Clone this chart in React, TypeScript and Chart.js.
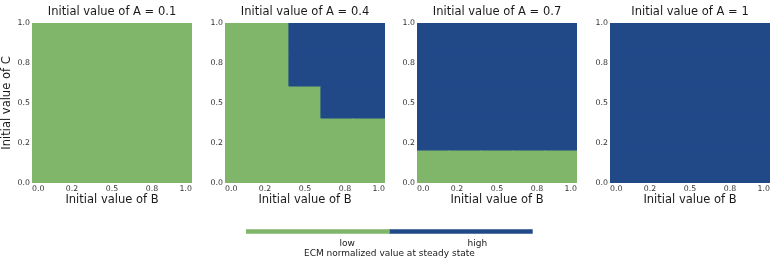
import React, { useEffect, useRef } from "react";
import { Chart, registerables } from "chart.js";

Chart.register(...registerables);

// ---- data ----
const A_VALUES = ["0.1", "0.4", "0.7", "1"];
// B columns (cell centres) and C rows (cell edges), grid 5 x 5 on [0,1]
const B_CENTERS = [0.1, 0.3, 0.5, 0.7, 0.9];
const C_EDGES = [0, 0.2, 0.4, 0.6, 0.8, 1.0];
// steady-state ECM (0 = low, 1 = high); rows from C=0 (bottom) to C=1 (top), columns B=0..1
const GRID_A01 = [
  [0, 0, 0, 0, 0],
  [0, 0, 0, 0, 0],
  [0, 0, 0, 0, 0],
  [0, 0, 0, 0, 0],
  [0, 0, 0, 0, 0],
];
const GRID_A04 = [
  [0, 0, 0, 0, 0],
  [0, 0, 0, 0, 0],
  [0, 0, 0, 1, 1],
  [0, 0, 1, 1, 1],
  [0, 0, 1, 1, 1],
];
const GRID_A07 = [
  [0, 0, 0, 0, 0],
  [1, 1, 1, 1, 1],
  [1, 1, 1, 1, 1],
  [1, 1, 1, 1, 1],
  [1, 1, 1, 1, 1],
];
const GRID_A10 = [
  [1, 1, 1, 1, 1],
  [1, 1, 1, 1, 1],
  [1, 1, 1, 1, 1],
  [1, 1, 1, 1, 1],
  [1, 1, 1, 1, 1],
];
const GRIDS = [GRID_A01, GRID_A04, GRID_A07, GRID_A10];
const AXIS_TICKS = [0, 0.25, 0.5, 0.75, 1];
const AXIS_TICK_LABELS = ["0.0", "0.2", "0.5", "0.8", "1.0"];
const LEVEL_LABELS = ["low", "high"];
const COLORBAR_TICKS = [0.353, 0.807];
const COLORBAR_EDGES = [0, 0.5, 1];

const GREEN = "rgb(127,182,106)";
const BLUE = "rgb(33,73,136)";
const LEVEL_COLORS = [GREEN, BLUE];
const TEXT = "#1a1a1a";
const TICK_TEXT = "#333333";
const FONT = "'DejaVu Sans', sans-serif";

function Panel({ index, left }: { index: number; left: number }) {
  const ref = useRef<HTMLCanvasElement>(null);
  useEffect(() => {
    const grid = GRIDS[index];
    const datasets = grid.map((row, r) => ({
      label: "C row " + r,
      data: row.map((v, c) => ({ x: B_CENTERS[c], y: [C_EDGES[r], C_EDGES[r + 1]] })),
      backgroundColor: row.map((v) => LEVEL_COLORS[v]),
      borderWidth: 0,
      barPercentage: 1,
      categoryPercentage: 1,
      grouped: false,
      inflateAmount: 0.6,
    }));
    const chart = new Chart(ref.current!, {
      type: "bar",
      data: { datasets: datasets as any },
      options: {
        animation: false,
        responsive: false,
        layout: { padding: { left: 0, right: 0, top: 0, bottom: 0 } },
        plugins: {
          legend: { display: false },
          tooltip: { enabled: false },
          title: {
            display: true,
            fullSize: false,
            text: "Initial value of A = " + A_VALUES[index],
            color: TEXT,
            font: { family: FONT, size: 11.5, weight: "normal" },
            padding: { top: 5, bottom: 4.2 },
          },
        },
        scales: {
          x: {
            type: "linear",
            min: 0,
            max: 1,
            offset: false,
            grid: { display: false, drawTicks: false },
            border: { display: false },
            afterBuildTicks: (axis: any) => {
              axis.ticks = AXIS_TICKS.map((v) => ({ value: v }));
            },
            afterFit: (axis: any) => {
              axis.height = 27;
            },
            ticks: {
              autoSkip: false,
              maxRotation: 0,
              align: "inner",
              padding: 1,
              color: TICK_TEXT,
              font: { family: FONT, size: 7.8 },
              callback: (_v: any, i: number) => AXIS_TICK_LABELS[i],
            },
            title: {
              display: true,
              text: "Initial value of B",
              color: TEXT,
              font: { family: FONT, size: 11.5 },
              padding: { top: 0, bottom: 3 },
            },
          },
          y: {
            type: "linear",
            min: 0,
            max: 1,
            grid: { display: false, drawTicks: false },
            border: { display: false },
            afterBuildTicks: (axis: any) => {
              axis.ticks = AXIS_TICKS.map((v) => ({ value: v }));
            },
            afterFit: (axis: any) => {
              axis.width = 32;
            },
            ticks: {
              autoSkip: false,
              padding: 2,
              color: TICK_TEXT,
              font: { family: FONT, size: 7.8 },
              callback: (_v: any, i: number) => AXIS_TICK_LABELS[i],
            },
            title: {
              display: index === 0,
              text: "Initial value of C",
              color: TEXT,
              font: { family: FONT, size: 11.5 },
              padding: 0,
            },
          },
        },
      } as any,
    });
    return () => chart.destroy();
  }, [index]);
  return (
    <canvas
      ref={ref}
      width={193}
      height={210}
      style={{ position: "absolute", left, top: 0, width: 193, height: 210 }}
    />
  );
}

function ColorBar() {
  const ref = useRef<HTMLCanvasElement>(null);
  useEffect(() => {
    const datasets = LEVEL_LABELS.map((lab, i) => ({
      label: lab,
      data: [[COLORBAR_EDGES[i], COLORBAR_EDGES[i + 1]]],
      backgroundColor: LEVEL_COLORS[i],
      borderWidth: 0,
      barPercentage: 1,
      categoryPercentage: 1,
      grouped: false,
      inflateAmount: 0.5,
    }));
    const chart = new Chart(ref.current!, {
      type: "bar",
      data: { labels: ["ECM"], datasets: datasets as any },
      options: {
        animation: false,
        responsive: false,
        indexAxis: "y",
        layout: { padding: { left: 10, right: 10.3, top: 7.3, bottom: 0 } },
        plugins: { legend: { display: false }, tooltip: { enabled: false } },
        scales: {
          y: { display: false, offset: false },
          x: {
            type: "linear",
            min: 0,
            max: 1,
            offset: false,
            grid: { display: false, drawTicks: false },
            border: { display: false },
            afterBuildTicks: (axis: any) => {
              axis.ticks = COLORBAR_TICKS.map((v) => ({ value: v }));
            },
            afterFit: (axis: any) => {
              axis.height = 23;
            },
            ticks: {
              autoSkip: false,
              maxRotation: 0,
              padding: 0.8,
              color: TEXT,
              font: { family: FONT, size: 9 },
              callback: (_v: any, i: number) => LEVEL_LABELS[i],
            },
            title: {
              display: true,
              text: "ECM normalized value at steady state",
              color: TEXT,
              font: { family: FONT, size: 9 },
              padding: { top: 0, bottom: 0.6 },
            },
          },
        },
      } as any,
    });
    return () => chart.destroy();
  }, []);
  return (
    <canvas
      ref={ref}
      width={307}
      height={38}
      style={{ position: "absolute", left: 236, top: 222, width: 307, height: 38 }}
    />
  );
}

export default function App() {
  const lefts = [0, 193, 385.3, 578];
  return (
    <div style={{ position: "absolute", left: 0, top: 0, width: 777, height: 260, background: "#fff", overflow: "hidden" }}>
      {lefts.map((l, i) => (
        <Panel key={i} index={i} left={l} />
      ))}
      <ColorBar />
    </div>
  );
}
